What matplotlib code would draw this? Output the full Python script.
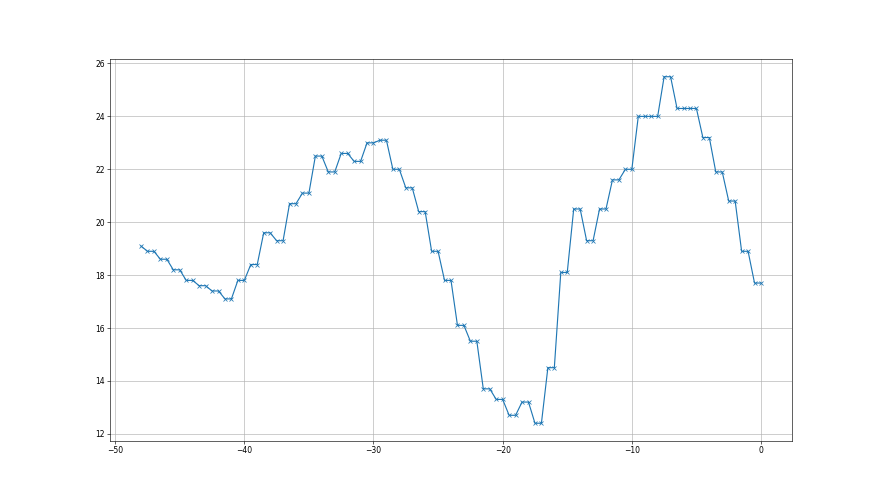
import numpy as np
import matplotlib.pyplot as plt

# positions, half-unit steps from -48 to 0
x_values = [
    -48.0, -47.5, -47.0, -46.5, -46.0, -45.5, -45.0, -44.5, -44.0, -43.5,
    -43.0, -42.5, -42.0, -41.5, -41.0, -40.5, -40.0, -39.5, -39.0, -38.5,
    -38.0, -37.5, -37.0, -36.5, -36.0, -35.5, -35.0, -34.5, -34.0, -33.5,
    -33.0, -32.5, -32.0, -31.5, -31.0, -30.5, -30.0, -29.5, -29.0, -28.5,
    -28.0, -27.5, -27.0, -26.5, -26.0, -25.5, -25.0, -24.5, -24.0, -23.5,
    -23.0, -22.5, -22.0, -21.5, -21.0, -20.5, -20.0, -19.5, -19.0, -18.5,
    -18.0, -17.5, -17.0, -16.5, -16.0, -15.5, -15.0, -14.5, -14.0, -13.5,
    -13.0, -12.5, -12.0, -11.5, -11.0, -10.5, -10.0, -9.5, -9.0, -8.5,
    -8.0, -7.5, -7.0, -6.5, -6.0, -5.5, -5.0, -4.5, -4.0, -3.5,
    -3.0, -2.5, -2.0, -1.5, -1.0, -0.5, 0.0,
]

y_values = [
    19.1, 18.9, 18.9, 18.6, 18.6, 18.2, 18.2, 17.8, 17.8, 17.6,
    17.6, 17.4, 17.4, 17.1, 17.1, 17.8, 17.8, 18.4, 18.4, 19.6,
    19.6, 19.3, 19.3, 20.7, 20.7, 21.1, 21.1, 22.5, 22.5, 21.9,
    21.9, 22.6, 22.6, 22.3, 22.3, 23.0, 23.0, 23.1, 23.1, 22.0,
    22.0, 21.3, 21.3, 20.4, 20.4, 18.9, 18.9, 17.8, 17.8, 16.1,
    16.1, 15.5, 15.5, 13.7, 13.7, 13.3, 13.3, 12.7, 12.7, 13.2,
    13.2, 12.4, 12.4, 14.5, 14.5, 18.1, 18.1, 20.5, 20.5, 19.3,
    19.3, 20.5, 20.5, 21.6, 21.6, 22.0, 22.0, 24.0, 24.0, 24.0,
    24.0, 25.5, 25.5, 24.3, 24.3, 24.3, 24.3, 23.2, 23.2, 21.9,
    21.9, 20.8, 20.8, 18.9, 18.9, 17.7, 17.7,
]


fig = plt.figure(figsize=(16, 9), dpi=55)
plt.plot(np.array(x_values), np.array(y_values), marker="x")
plt.grid(True)
plt.savefig("out.png", dpi=55)
plt.close()
